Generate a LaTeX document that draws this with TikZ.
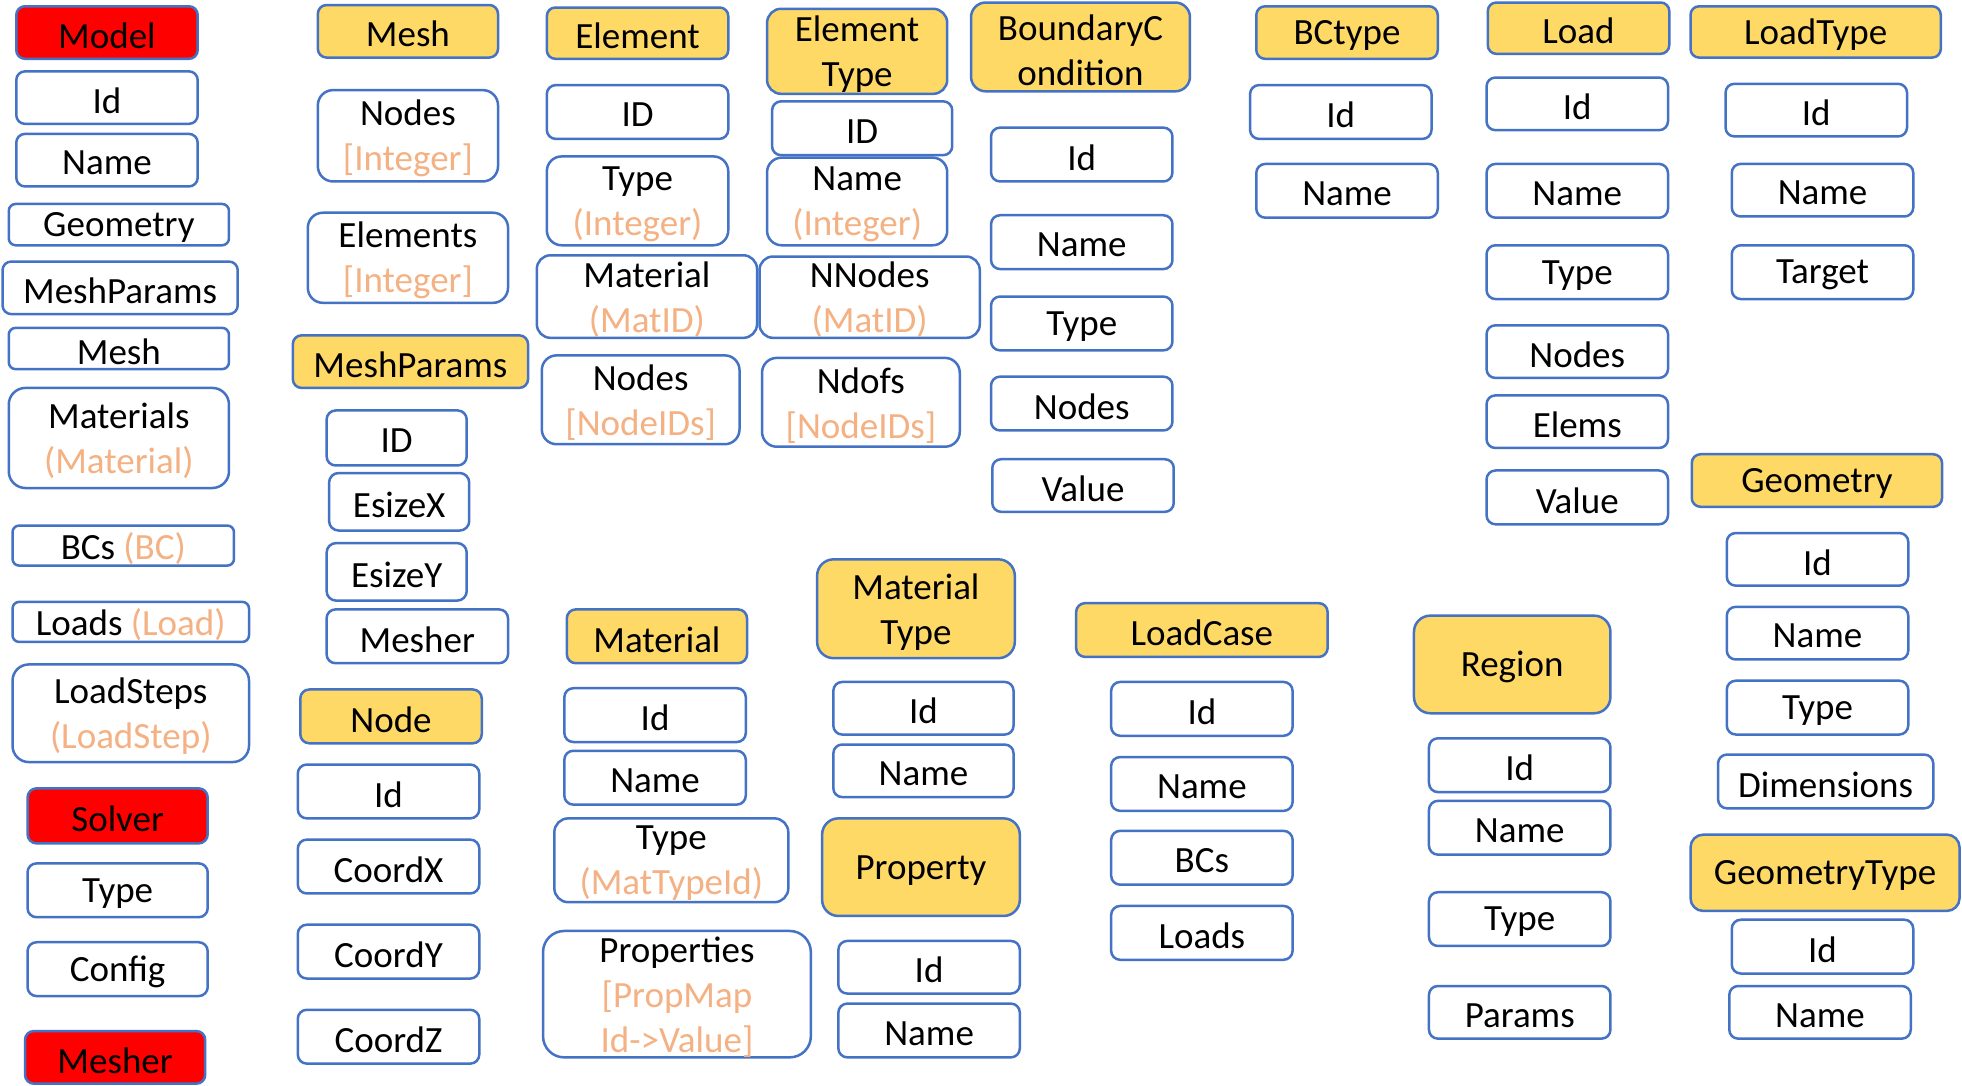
\documentclass[tikz,border=0pt]{standalone}
\usepackage{fontspec}
\setmainfont{Carlito}
\definecolor{bblue}{HTML}{4472C4}
\definecolor{gold}{HTML}{FFD966}
\definecolor{orng}{HTML}{F4B183}
\definecolor{redf}{HTML}{FF0000}
\newcommand\og[1]{\textcolor{orng}{#1}}
\newcommand\bx[7]{%
 \pgfmathsetmacro\bw{(#4-#2)*1.2513}%
 \pgfmathsetmacro\bh{(#5-#3)*1.2513}%
 \pgfmathsetmacro\bcx{(#2+#4)/2*1.2513}%
 \pgfmathsetmacro\bcy{(#3+#5)/2*1.2513}%
 \pgfmathsetmacro\bty{\bcy+3}%
 \pgfmathsetmacro\brc{0.1667*min(\bw,\bh)}%
 \node[#6, minimum width=\bw pt, minimum height=\bh pt, rounded corners=\brc pt] (#1) at (\bcx,\bcy) {};%
 \node[boxtext] (#1-t) at (\bcx,\bty) {#7};%
}
\tikzset{
 fieldbox/.style={draw=bblue, line width=2.5pt, fill=white, inner sep=0pt},
 headbox/.style={fieldbox, fill=gold},
 redbox/.style={fieldbox, fill=redf},
 boxtext/.style={inner sep=0pt, align=center, font=\fontsize{37}{45}\selectfont},
}
\begin{document}
\begin{tikzpicture}[x=1pt,y=-1pt]
\useasboundingbox[fill=white] (0,0) rectangle (1962,1085);
% column 1
\bx{mdl}{13}{5}{158}{47}{redbox}{Model}
\bx{mdlId}{13}{57}{158}{99}{fieldbox}{Id}
\bx{mdlName}{13}{107}{158}{149}{fieldbox}{Name}
\bx{mdlGeo}{7}{163}{183}{196}{fieldbox}{Geometry}
\bx{mdlMP}{2}{209}{190}{251}{fieldbox}{MeshParams}
\bx{mdlMesh}{7}{262}{183}{295}{fieldbox}{Mesh}
\bx{mdlMat}{7}{310}{183}{390}{fieldbox}{Materials\\\og{(Material)}}
\bx{mdlBC}{10}{420}{187}{452}{fieldbox}{BCs \og{(BC)}}
\bx{mdlLoads}{10}{481}{199}{513}{fieldbox}{Loads \og{(Load)}}
\bx{mdlLS}{10}{531}{199}{609}{fieldbox}{LoadSteps\\\og{(LoadStep)}}
\bx{slv}{22}{630}{166}{674}{redbox}{Solver}
\bx{slvType}{22}{690}{166}{733}{fieldbox}{Type}
\bx{slvCfg}{22}{753}{166}{796}{fieldbox}{Config}
\bx{msr}{20}{824}{164}{866}{redbox}{Mesher}
% column 2
\bx{mesh}{254}{4}{398}{46}{headbox}{Mesh}
\bx{meshNodes}{254}{72}{398}{145}{fieldbox}{Nodes\\\og{[Integer]}}
\bx{meshElems}{246}{170}{406}{242}{fieldbox}{Elements\\\og{[Integer]}}
\bx{mp}{234}{268}{422}{310}{headbox}{MeshParams}
\bx{mpID}{261}{328}{373}{372}{fieldbox}{ID}
\bx{mpEX}{263}{378}{375}{424}{fieldbox}{EsizeX}
\bx{mpEY}{261}{434}{373}{480}{fieldbox}{EsizeY}
\bx{mpMesher}{261}{487}{406}{530}{fieldbox}{Mesher}
\bx{node}{240}{551}{385}{594}{headbox}{Node}
\bx{nodeId}{238}{611}{383}{654}{fieldbox}{Id}
\bx{nodeX}{238}{671}{383}{714}{fieldbox}{CoordX}
\bx{nodeY}{238}{739}{383}{782}{fieldbox}{CoordY}
\bx{nodeZ}{238}{807}{383}{850}{fieldbox}{CoordZ}
% column 3
\bx{elem}{437}{6}{582}{47}{headbox}{Element}
\bx{elemID}{437}{68}{582}{111}{fieldbox}{ID}
\bx{elemType}{437}{125}{582}{196}{fieldbox}{Type\\\og{(Integer)}}
\bx{elemMat}{429}{204}{605}{270}{fieldbox}{Material\\\og{(MatID)}}
\bx{elemNodes}{433}{284}{591}{355}{fieldbox}{Nodes\\\og{[NodeIDs]}}
\bx{mat}{453}{487}{597}{530}{headbox}{Material}
\bx{matId}{451}{550}{596}{593}{fieldbox}{Id}
\bx{matName}{451}{600}{596}{643}{fieldbox}{Name}
\bx{matType}{443}{654}{630}{721}{fieldbox}{Type\\\og{(MatTypeId)}}
\bx{matProps}{434}{744}{648}{845}{fieldbox}{Properties\\\og{[PropMap}\\\og{Id->Value]}}
% column 4
\bx{et}{613}{7}{757}{75}{headbox}{Element\\Type}
\bx{etID}{617}{81}{761}{124}{fieldbox}{ID}
\bx{etName}{613}{126}{757}{196}{fieldbox}{Name\\\og{(Integer)}}
\bx{etNN}{607}{205}{783}{270}{fieldbox}{NNodes\\\og{(MatID)}}
\bx{etNd}{609}{286}{767}{357}{fieldbox}{Ndofs\\\og{[NodeIDs]}}
\bx{mt}{653}{447}{811}{526}{headbox}{Material\\Type}
\bx{mtId}{666}{545}{810}{587}{fieldbox}{Id}
\bx{mtName}{666}{595}{810}{637}{fieldbox}{Name}
\bx{prop}{657}{654}{815}{732}{headbox}{Property}
\bx{propId}{670}{752}{815}{794}{fieldbox}{Id}
\bx{propName}{670}{802}{815}{845}{fieldbox}{Name}
% column 5
\bx{bc}{776}{2}{951}{73}{headbox}{BoundaryC\\ondition}
\bx{bcId}{792}{102}{937}{145}{fieldbox}{Id}
\bx{bcName}{792}{172}{937}{215}{fieldbox}{Name}
\bx{bcType}{792}{237}{937}{280}{fieldbox}{Type}
\bx{bcNodes}{792}{301}{937}{344}{fieldbox}{Nodes}
\bx{bcValue}{793}{367}{938}{409}{fieldbox}{Value}
\bx{lc}{860}{482}{1061}{525}{headbox}{LoadCase}
\bx{lcId}{888}{545}{1033}{588}{fieldbox}{Id}
\bx{lcName}{888}{605}{1033}{648}{fieldbox}{Name}
\bx{lcBCs}{888}{664}{1033}{707}{fieldbox}{BCs}
\bx{lcLoads}{888}{724}{1033}{767}{fieldbox}{Loads}
% column 6
\bx{bct}{1004}{5}{1149}{47}{headbox}{BCtype}
\bx{bctId}{999}{68}{1144}{111}{fieldbox}{Id}
\bx{bctName}{1004}{131}{1149}{174}{fieldbox}{Name}
\bx{reg}{1130}{492}{1287}{570}{headbox}{Region}
\bx{regId}{1142}{590}{1287}{633}{fieldbox}{Id}
\bx{regName}{1142}{640}{1287}{683}{fieldbox}{Name}
\bx{regType}{1142}{713}{1287}{756}{fieldbox}{Type}
\bx{regParams}{1142}{788}{1287}{830}{fieldbox}{Params}
% column 7
\bx{load}{1189}{2}{1334}{43}{headbox}{Load}
\bx{loadId}{1188}{62}{1333}{104}{fieldbox}{Id}
\bx{loadName}{1188}{131}{1333}{174}{fieldbox}{Name}
\bx{loadType}{1188}{196}{1333}{239}{fieldbox}{Type}
\bx{loadNodes}{1188}{260}{1333}{302}{fieldbox}{Nodes}
\bx{loadElems}{1188}{316}{1333}{358}{fieldbox}{Elems}
\bx{loadValue}{1188}{376}{1333}{419}{fieldbox}{Value}
% column 8
\bx{lt}{1351}{5}{1551}{46}{headbox}{LoadType}
\bx{ltId}{1379}{67}{1524}{109}{fieldbox}{Id}
\bx{ltName}{1384}{131}{1529}{173}{fieldbox}{Name}
\bx{ltTarget}{1384}{196}{1529}{239}{fieldbox}{Target}
\bx{geo}{1352}{363}{1552}{405}{headbox}{Geometry}
\bx{geoId}{1380}{426}{1525}{468}{fieldbox}{Id}
\bx{geoName}{1380}{485}{1525}{527}{fieldbox}{Name}
\bx{geoType}{1380}{544}{1525}{587}{fieldbox}{Type}
\bx{geoDim}{1373}{603}{1545}{646}{fieldbox}{Dimensions}
\bx{gt}{1351}{667}{1566}{728}{headbox}{GeometryType}
\bx{gtId}{1384}{735}{1529}{778}{fieldbox}{Id}
\bx{gtName}{1382}{788}{1527}{830}{fieldbox}{Name}
\end{tikzpicture}
\end{document}
